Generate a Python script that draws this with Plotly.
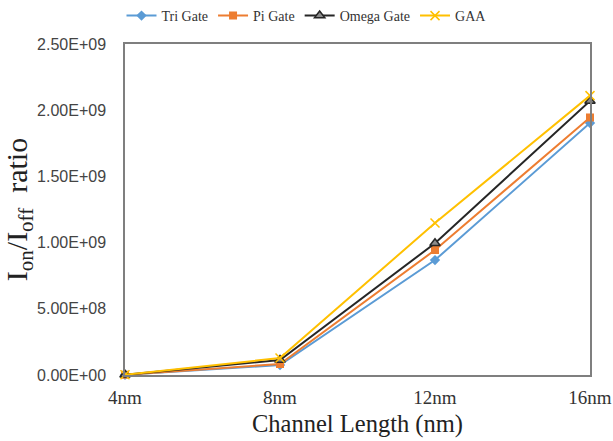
import plotly.graph_objects as go

categories = ["4nm", "8nm", "12nm", "16nm"]
tri_gate = [0.002e9, 0.075e9, 0.868e9, 1.903e9]
pi_gate = [0.002e9, 0.083e9, 0.944e9, 1.945e9]
omega_gate = [0.002e9, 0.113e9, 0.995e9, 2.07e9]
gaa = [0.002e9, 0.128e9, 1.148e9, 2.11e9]
y_tick_vals = [0, 0.5e9, 1.0e9, 1.5e9, 2.0e9, 2.5e9]
y_tick_text = ["0.00E+00", "5.00E+08", "1.00E+09", "1.50E+09", "2.00E+09", "2.50E+09"]

x_idx = list(range(len(categories)))

fig = go.Figure()
fig.add_trace(go.Scatter(x=x_idx, y=tri_gate, name="Tri Gate", mode="lines+markers",
                         line=dict(color="#5B9BD5", width=2),
                         marker=dict(symbol="diamond", size=8, color="#5B9BD5"), cliponaxis=False))
fig.add_trace(go.Scatter(x=x_idx, y=pi_gate, name="Pi Gate", mode="lines+markers",
                         line=dict(color="#ED7D31", width=2),
                         marker=dict(symbol="square", size=8, color="#ED7D31"), cliponaxis=False))
fig.add_trace(go.Scatter(x=x_idx, y=omega_gate, name="Omega Gate", mode="lines+markers",
                         line=dict(color="#262626", width=2),
                         marker=dict(symbol="triangle-up", size=9, color="#8C8C8C",
                                     line=dict(color="#262626", width=1.5)), cliponaxis=False))
fig.add_trace(go.Scatter(x=x_idx, y=gaa, name="GAA", mode="lines+markers",
                         line=dict(color="#FFC000", width=2),
                         marker=dict(symbol="x-thin", size=9, line=dict(color="#FFC000", width=1.5)),
                         cliponaxis=False))

fig.update_layout(
    width=613, height=441,
    margin=dict(l=125, r=23, t=44, b=66),
    plot_bgcolor="white", paper_bgcolor="white",
    showlegend=True,
    legend=dict(orientation="h", x=0.5, xanchor="center", xref="container",
                y=1.0, yanchor="top", yref="container",
                font=dict(family="Liberation Serif", size=14, color="#333333"),
                tracegroupgap=0),
    xaxis=dict(range=[0, 3], tickvals=x_idx, ticktext=categories, showgrid=False, zeroline=False,
               showline=True, linecolor="#7F7F7F", linewidth=1.5, mirror=True, automargin=False,
               tickfont=dict(family="Liberation Serif", size=19, color="#333333"),
               title=dict(text="Channel Length (nm)", font=dict(family="Liberation Serif", size=24.5, color="#222222"),
                          standoff=8),
               ticks="", ticklabelstandoff=4),
    yaxis=dict(range=[0, 2.5e9], tickvals=y_tick_vals, ticktext=y_tick_text, showgrid=False, zeroline=False,
               showline=True, linecolor="#7F7F7F", linewidth=1.5, mirror=True, automargin=False,
               tickfont=dict(family="Liberation Sans", size=16, color="#444444"),
               title=dict(text="I<sub>on</sub>/I<sub>off</sub>  ratio",
                          font=dict(family="Liberation Serif", size=30, color="#222222"), standoff=4),
               ticks="", ticklabelstandoff=14),
)

fig.write_html("out.html")
